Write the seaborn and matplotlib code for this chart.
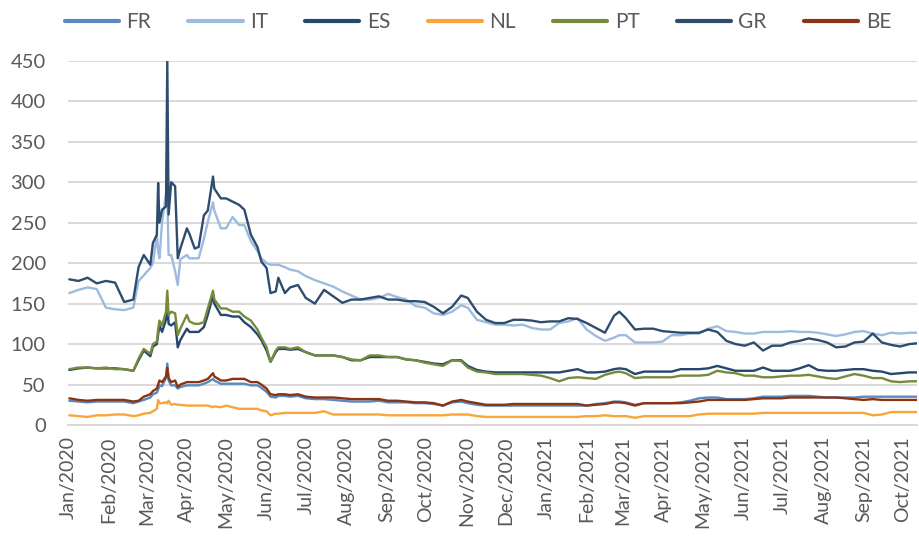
import pandas as pd
import seaborn as sns
import matplotlib.pyplot as plt
import matplotlib.dates as mdates

# sample dates (roughly weekly, denser around the March 2020 spike)
dates = [
    '2020-01-02', '2020-01-09', '2020-01-16', '2020-01-23', '2020-01-30',
    '2020-02-06', '2020-02-13', '2020-02-20', '2020-02-24', '2020-02-28',
    '2020-03-04', '2020-03-06', '2020-03-09', '2020-03-10', '2020-03-11', '2020-03-13', '2020-03-16',
    '2020-03-17', '2020-03-18', '2020-03-20', '2020-03-23', '2020-03-25', '2020-03-27',
    '2020-04-01', '2020-04-03', '2020-04-07', '2020-04-10', '2020-04-14', '2020-04-17', '2020-04-21',
    '2020-04-22', '2020-04-27',
    '2020-05-01', '2020-05-06', '2020-05-11', '2020-05-15', '2020-05-20', '2020-05-25', '2020-05-28',
    '2020-06-01', '2020-06-04', '2020-06-08', '2020-06-10', '2020-06-15', '2020-06-19', '2020-06-25',
    '2020-07-01', '2020-07-08', '2020-07-15', '2020-07-22', '2020-07-29',
    '2020-08-05', '2020-08-12', '2020-08-19', '2020-08-26',
    '2020-09-02', '2020-09-09', '2020-09-16', '2020-09-23', '2020-09-30',
    '2020-10-07', '2020-10-14', '2020-10-21', '2020-10-28',
    '2020-11-02', '2020-11-09', '2020-11-16', '2020-11-23', '2020-11-30',
    '2020-12-07', '2020-12-14', '2020-12-21', '2020-12-28',
    '2021-01-04', '2021-01-11', '2021-01-18', '2021-01-25',
    '2021-02-01', '2021-02-08', '2021-02-15', '2021-02-22', '2021-02-26',
    '2021-03-03', '2021-03-10', '2021-03-17', '2021-03-24', '2021-03-31',
    '2021-04-07', '2021-04-14', '2021-04-21', '2021-04-28',
    '2021-05-05', '2021-05-12', '2021-05-19', '2021-05-26',
    '2021-06-02', '2021-06-09', '2021-06-16', '2021-06-23', '2021-06-30',
    '2021-07-07', '2021-07-14', '2021-07-21', '2021-07-28',
    '2021-08-04', '2021-08-11', '2021-08-18', '2021-08-25',
    '2021-09-01', '2021-09-08', '2021-09-15', '2021-09-22', '2021-09-29',
    '2021-10-06', '2021-10-12',
]

fr = [30, 29, 28, 29, 29,
      29, 29, 27, 29, 31,
      34, 38, 40, 44, 49, 48, 58, 76, 55, 49, 49, 45, 47,
      49, 49, 49, 49, 51, 53, 57, 55, 51,
      51, 51, 51, 51, 49, 49, 46,
      41, 35, 34, 36, 36, 35, 36,
      33, 32, 32, 31, 30,
      29, 29, 29, 30,
      28, 28, 28, 27, 27,
      26, 24, 28, 29,
      27, 25, 24, 24, 24,
      24, 24, 24, 24,
      24, 24, 24, 24,
      24, 26, 27, 29, 29,
      28, 25, 27, 27, 27,
      27, 28, 30, 33,
      34, 34, 32, 32,
      32, 33, 35, 35, 35,
      36, 36, 36, 35,
      34, 34, 34, 34,
      35, 35, 35, 35, 35,
      35, 35]

it = [163, 167, 170, 168, 145,
      143, 142, 145, 178, 185,
      194, 200, 235, 215, 206, 251, 285, 288, 210, 210, 190, 173, 205,
      210, 206, 206, 206, 230, 251, 275, 265, 243,
      243, 257, 247, 247, 227, 215, 206,
      200, 198, 198, 198, 195, 192, 190,
      184, 179, 175, 171, 165,
      160, 155, 155, 157,
      162, 158, 155, 147, 145,
      138, 136, 140, 148,
      145, 130, 127, 124, 124,
      123, 124, 120, 118,
      118, 126, 128, 132,
      118, 110, 104, 108, 111,
      111, 102, 102, 102, 103,
      111, 111, 113, 113,
      119, 122, 116, 115,
      113, 113, 115, 115, 115,
      116, 115, 115, 114,
      112, 110, 112, 115,
      116, 113, 111, 114, 113,
      114, 114]

es = [68, 70, 71, 70, 70,
      70, 69, 67, 80, 92,
      85, 97, 100, 112, 123, 115, 130, 152, 125, 123, 127, 96, 105,
      119, 115, 115, 115, 121, 136, 160, 150, 136,
      136, 134, 134, 127, 121, 112, 105,
      92, 78, 90, 94, 94, 93, 94,
      90, 86, 86, 86, 84,
      80, 80, 84, 84,
      84, 84, 81, 80, 78,
      76, 75, 80, 80,
      73, 68, 66, 65, 65,
      65, 65, 65, 65,
      65, 65, 67, 69,
      65, 65, 66, 69, 70,
      69, 63, 66, 66, 66,
      66, 69, 69, 69,
      70, 73, 70, 67,
      67, 67, 71, 67, 67,
      67, 70, 74, 68,
      67, 67, 68, 69,
      69, 67, 66, 63, 64,
      65, 65]

nl = [12, 11, 10, 12, 12,
      13, 13, 11, 12, 14,
      15, 17, 20, 31, 27, 27, 28, 27, 30, 25, 26, 25, 25,
      24, 24, 24, 24, 24, 24, 22, 23, 22,
      24, 22, 20, 20, 20, 20, 18,
      17, 12, 14, 14, 15, 15, 15,
      15, 15, 17, 13, 13,
      13, 13, 13, 13,
      12, 12, 12, 12, 12,
      12, 12, 13, 13,
      13, 11, 10, 10, 10,
      10, 10, 10, 10,
      10, 10, 10, 10,
      11, 11, 12, 11, 11,
      11, 9, 11, 11, 11,
      11, 11, 11, 13,
      14, 14, 14, 14,
      14, 14, 15, 15, 15,
      15, 15, 15, 15,
      15, 15, 15, 15,
      15, 12, 13, 16, 16,
      16, 16]

pt = [69, 71, 71, 70, 71,
      69, 69, 67, 82, 94,
      88, 100, 103, 118, 129, 123, 140, 166, 136, 140, 138, 111, 119,
      136, 128, 125, 125, 127, 144, 166, 155, 144,
      144, 140, 140, 134, 129, 118, 108,
      96, 78, 92, 96, 96, 94, 96,
      90, 86, 86, 86, 84,
      81, 80, 86, 86,
      84, 84, 81, 80, 77,
      75, 73, 80, 79,
      71, 66, 65, 63, 63,
      63, 63, 62, 61,
      58, 54, 58, 59,
      58, 57, 62, 65, 66,
      64, 58, 59, 59, 59,
      59, 61, 61, 61,
      62, 67, 65, 64,
      61, 61, 59, 59, 60,
      61, 61, 62, 60,
      58, 57, 60, 63,
      61, 58, 58, 54, 53,
      54, 54]

gr = [180, 178, 182, 175, 178,
      176, 152, 155, 195, 210,
      198, 225, 235, 299, 250, 266, 270, 449, 260, 300, 295, 206, 218,
      243, 236, 218, 220, 259, 265, 307, 292, 280,
      280, 276, 272, 266, 235, 220, 202,
      194, 163, 165, 182, 163, 170, 173,
      157, 150, 167, 159, 151,
      155, 155, 157, 159,
      155, 155, 153, 153, 152,
      146, 138, 146, 160,
      157, 140, 130, 126, 126,
      130, 130, 129, 127,
      128, 128, 132, 131,
      126, 120, 114, 135, 140,
      132, 118, 119, 119, 116,
      115, 114, 114, 114,
      118, 115, 104, 100,
      98, 102, 92, 98, 98,
      102, 104, 107, 105,
      102, 96, 97, 102,
      103, 113, 102, 99, 97,
      100, 101]

be = [33, 31, 30, 31, 31,
      31, 31, 29, 30, 35,
      38, 42, 45, 50, 55, 53, 60, 71, 58, 53, 55, 47, 50,
      53, 53, 53, 53, 55, 57, 64, 60, 55,
      55, 57, 57, 57, 53, 53, 50,
      45, 38, 37, 38, 38, 37, 38,
      35, 34, 34, 34, 33,
      32, 32, 32, 32,
      30, 30, 29, 28, 28,
      27, 24, 29, 31,
      29, 27, 25, 25, 25,
      26, 26, 26, 26,
      26, 26, 26, 26,
      24, 25, 26, 28, 28,
      27, 24, 27, 27, 27,
      27, 27, 28, 29,
      31, 31, 31, 31,
      31, 32, 33, 33, 33,
      34, 34, 34, 34,
      34, 34, 33, 32,
      31, 32, 31, 31, 31,
      31, 31]

countries = ['FR', 'IT', 'ES', 'NL', 'PT', 'GR', 'BE']
colors = ['#5b89bd', '#9dbadf', '#24476b', '#f9a53a', '#768a3c', '#2e4d6e', '#8a3414']

df = pd.DataFrame({'date': pd.to_datetime(dates), 'FR': fr, 'IT': it, 'ES': es,
                   'NL': nl, 'PT': pt, 'GR': gr, 'BE': be})
long = df.melt(id_vars='date', var_name='country', value_name='spread')

sns.set_theme(style='white')
plt.rcParams['font.family'] = ['Lato', 'DejaVu Sans']

fig = plt.figure(figsize=(9.19, 5.38), dpi=100)
ax = fig.add_axes([0.074, 0.21, 0.924, 0.677])

sns.lineplot(data=long, x='date', y='spread', hue='country', hue_order=countries,
             palette=dict(zip(countries, colors)), linewidth=1.7, ax=ax)

ax.set_ylim(0, 450)
ax.set_yticks(range(0, 451, 50))
ax.set_xlim(pd.Timestamp('2020-01-01'), pd.Timestamp('2021-10-12'))
ax.xaxis.set_major_locator(mdates.MonthLocator())
ax.xaxis.set_major_formatter(mdates.DateFormatter('%b/%Y'))
ax.set_xlabel('')
ax.set_ylabel('')

ax.yaxis.grid(True, color='#d9d9d9', linewidth=1.4)
ax.set_axisbelow(True)
for s in ['left', 'top', 'right']:
    ax.spines[s].set_visible(False)
ax.spines['bottom'].set_color('#d9d9d9')
ax.spines['bottom'].set_linewidth(1.4)

ax.tick_params(axis='x', direction='out', length=5, width=1.2, color='#d9d9d9',
               labelcolor='#595959', labelsize=14, labelrotation=90, pad=3)
ax.tick_params(axis='y', length=0, labelcolor='#595959', labelsize=14.5, pad=16)

handles, labels = ax.get_legend_handles_labels()
leg = ax.legend(handles, labels, loc='center', bbox_to_anchor=(0.52, 0.959),
                bbox_transform=fig.transFigure, ncol=7, frameon=False, fontsize=15,
                handlelength=2.6, handletextpad=0.35, columnspacing=1.8)
for line in leg.get_lines():
    line.set_linewidth(3)
for t in leg.get_texts():
    t.set_color('#595959')

plt.savefig('out.png', dpi=100)
